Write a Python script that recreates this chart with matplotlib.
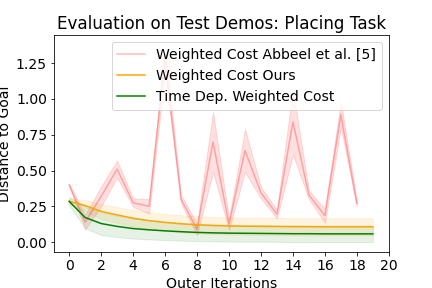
import numpy as np
import matplotlib
matplotlib.use("Agg")
import matplotlib.pyplot as plt

plt.rcParams['font.size'] = 14

x_red = np.arange(19)
x_all = np.arange(20)

red_mean = [0.40, 0.14, 0.32, 0.51, 0.275, 0.25, 1.28, 0.30, 0.09, 0.70, 0.125,
            0.64, 0.345, 0.195, 0.84, 0.33, 0.185, 0.89, 0.27]
red_std = [0.01, 0.05, 0.07, 0.06, 0.03, 0.05, 0.095, 0.03, 0.04, 0.21, 0.04,
           0.15, 0.04, 0.03, 0.23, 0.03, 0.05, 0.09, 0.02]

orange_mean = [0.285, 0.255, 0.215, 0.19, 0.167, 0.15, 0.138, 0.128, 0.121, 0.116,
               0.113, 0.111, 0.110, 0.109, 0.108, 0.108, 0.107, 0.107, 0.107, 0.107]
orange_std = [0.02, 0.04, 0.05, 0.055, 0.057, 0.058, 0.059, 0.06, 0.06, 0.06,
              0.06, 0.06, 0.06, 0.06, 0.06, 0.06, 0.06, 0.06, 0.06, 0.06]

green_mean = [0.285, 0.172, 0.13, 0.11, 0.095, 0.086, 0.079, 0.073, 0.068, 0.065,
              0.063, 0.062, 0.061, 0.060, 0.059, 0.059, 0.058, 0.058, 0.058, 0.058]
green_std = [0.03, 0.075, 0.08, 0.075, 0.07, 0.067, 0.064, 0.062, 0.06, 0.06,
             0.059, 0.059, 0.058, 0.058, 0.058, 0.058, 0.058, 0.058, 0.058, 0.058]

labels = ["Weighted Cost Abbeel et al. [5]", "Weighted Cost Ours", "Time Dep. Weighted Cost"]

fig, ax = plt.subplots(figsize=(6, 4), dpi=72)
fig.subplots_adjust(left=0.125, right=0.9, top=0.877, bottom=0.125)

rm, rs = np.array(red_mean), np.array(red_std)
om, os_ = np.array(orange_mean), np.array(orange_std)
gm, gs = np.array(green_mean), np.array(green_std)

ax.plot(x_red, rm, color='red', alpha=0.28, label=labels[0])
ax.fill_between(x_red, rm - rs, rm + rs, color='red', alpha=0.12)
ax.plot(x_all, om, color='orange', label=labels[1])
ax.fill_between(x_all, om - os_, om + os_, color='orange', alpha=0.12)
ax.plot(x_all, gm, color='green', label=labels[2])
ax.fill_between(x_all, gm - gs, gm + gs, color='green', alpha=0.1)

ax.set_xticks(np.arange(0, 21, 2))
ax.set_title("Evaluation on Test Demos: Placing Task")
ax.set_xlabel("Outer Iterations")
ax.set_ylabel("Distance to Goal")
ax.legend(loc='upper right')

fig.savefig("out.png", dpi=72)
